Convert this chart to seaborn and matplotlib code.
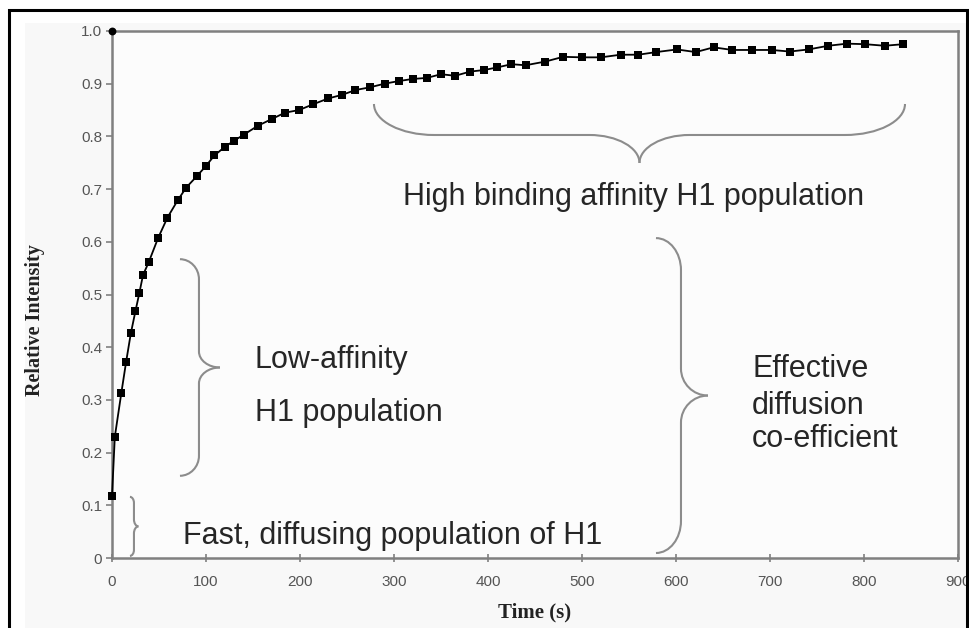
import numpy as np
import pandas as pd
import matplotlib
matplotlib.use("Agg")
import matplotlib.pyplot as plt
import seaborn as sns
from matplotlib.path import Path
from matplotlib.patches import PathPatch, Rectangle

# ---------------- data ----------------
time_s = [0, 3, 10, 15, 20, 25, 29, 33, 39, 49, 59, 70, 79, 90, 100, 109, 120, 130, 140,
          155, 170, 184, 199, 214, 230, 245, 259, 274, 290, 305, 320, 335, 350, 365, 381,
          396, 410, 425, 440, 461, 480, 500, 520, 541, 560, 579, 601, 621, 640, 660, 681,
          702, 721, 741, 762, 782, 801, 822, 842]
intensity = [0.118, 0.230, 0.314, 0.372, 0.426, 0.469, 0.502, 0.537, 0.561, 0.607, 0.646,
             0.679, 0.703, 0.724, 0.744, 0.764, 0.780, 0.792, 0.803, 0.820, 0.833, 0.845,
             0.850, 0.861, 0.872, 0.879, 0.888, 0.893, 0.900, 0.905, 0.909, 0.911, 0.918,
             0.915, 0.923, 0.926, 0.931, 0.937, 0.935, 0.942, 0.951, 0.950, 0.950, 0.955,
             0.955, 0.960, 0.965, 0.960, 0.969, 0.964, 0.964, 0.964, 0.961, 0.965, 0.972,
             0.976, 0.975, 0.972, 0.975]
prebleach_time = [0]
prebleach_intensity = [1.0]

x_ticks = [0, 100, 200, 300, 400, 500, 600, 700, 800, 900]
y_ticks = [0, 0.1, 0.2, 0.3, 0.4, 0.5, 0.6, 0.7, 0.8, 0.9, 1.0]
y_tick_labels = ["0", "0.1", "0.2", "0.3", "0.4", "0.5", "0.6", "0.7", "0.8", "0.9", "1.0"]

x_label = "Time (s)"
y_label = "Relative Intensity"

# annotations: (text, x, y)
annotations = [
    ("High binding affinity H1 population", 309.6, 0.670),
    ("Low-affinity", 152.1, 0.3605),
    ("H1 population", 152.1, 0.260),
    ("Fast, diffusing population of H1", 75.2, 0.0266),
    ("Effective", 680.9, 0.3435),
    ("diffusion", 680.9, 0.2732),
    ("co-efficient", 680.9, 0.2106),
]
# braces: (start point, end point) in data coords
braces = [
    ((278.7, 0.8615), (843.6, 0.8615)),
    ((72.3, 0.567), (72.3, 0.156)),
    ((19.1, 0.116), (19.1, 0.004)),
    ((578.7, 0.607), (578.7, 0.0095)),
]
# brace shapes in pixels: (d1, D, r1, r2, side)  side=-1 tip downwards, +1 tip to the right
brace_shapes = [
    (31, 59, 60, 50, -1),
    (19, 40, 20, 16, 1),
    (4, 8.5, 6, 7, 1),
    (25, 52, 32, 27, 1),
]

# ---------------- style ----------------
sns.set_theme(style="white")
plt.rcParams["font.family"] = ["Liberation Sans", "DejaVu Sans"]

W, H = 970, 628
fig = plt.figure(figsize=(W / 100, H / 100), dpi=100)
fig.patch.set_facecolor("white")

# light gray panel and outer black frame
fig.add_artist(Rectangle((25 / W, 0), 1 - 25 / W, 1 - 23 / H, transform=fig.transFigure,
                         facecolor="#f8f8f8", edgecolor="none", zorder=-10))
fig.add_artist(Rectangle((9 / W, -0.05), (967 - 9) / W, 1.05 - 10 / H, transform=fig.transFigure,
                         facecolor="none", edgecolor="black", linewidth=2.2, zorder=10,
                         clip_on=False))

ax = fig.add_axes([112 / W, (H - 558) / H, 846 / W, 527 / H])
ax.set_facecolor("#fcfcfc")

df = pd.DataFrame({"t": time_s, "I": intensity})
sns.lineplot(data=df, x="t", y="I", ax=ax, color="black", linewidth=1.3,
             marker="s", markersize=5.2, markeredgewidth=0, sort=False, estimator=None,
             clip_on=False, zorder=3)
sns.scatterplot(x=prebleach_time, y=prebleach_intensity, ax=ax, color="black", marker="o",
                s=32, linewidth=0, clip_on=False, zorder=4)

ax.set_xlim(0, 900)
ax.set_ylim(0, 1.0)
ax.set_xticks(x_ticks)
ax.set_yticks(y_ticks)
ax.set_yticklabels(y_tick_labels)

spine_color = "#808080"
for s in ax.spines.values():
    s.set_visible(True)
    s.set_color(spine_color)
    s.set_linewidth(1.8)

ax.tick_params(axis="y", direction="out", length=4, width=1.2, color=spine_color,
               labelsize=11, labelcolor="#555555", pad=3, left=True)
ax.tick_params(axis="x", direction="inout", length=6, width=1.2, color=spine_color,
               labelsize=11, labelcolor="#555555", pad=9, bottom=True)

ax.set_xlabel(x_label, family="Liberation Serif", fontweight="bold", fontsize=15,
              color="#222222", va="center")
ax.set_ylabel(y_label, family="Liberation Serif", fontweight="bold", fontsize=14.5,
              color="#222222", va="center")
ax.xaxis.set_label_coords(0.499, -0.1025)
ax.yaxis.set_label_coords(-0.091, 0.452)

for txt, x, y in annotations:
    ax.text(x, y, txt, ha="left", va="baseline", fontsize=22, color="#262626",
            family=["Liberation Sans", "DejaVu Sans"])

# ---------------- braces ----------------
def draw_brace(ax, p0, p1, d1, D, r1, r2, side):
    fig.canvas.draw()
    tr = ax.transData
    a = np.array(tr.transform(p0))
    b = np.array(tr.transform(p1))
    L = np.linalg.norm(b - a)
    u = (b - a) / L
    if side == -1:
        n = np.array([0.0, -1.0])
    else:
        n = np.array([1.0, 0.0])
    k = 0.55
    m = (a + b) / 2
    T = m + n * D

    def half(E, uu):
        A = E + n * d1 + uu * r1
        B = m - uu * r2 + n * d1
        verts = [E, E + n * d1 * k, A - uu * r1 * k, A,
                 B,
                 B + uu * r2 * k, T - n * (D - d1) * k, T]
        codes = [Path.MOVETO, Path.CURVE4, Path.CURVE4, Path.CURVE4,
                 Path.LINETO,
                 Path.CURVE4, Path.CURVE4, Path.CURVE4]
        return verts, codes

    v1, c1 = half(a, u)
    v2, c2 = half(b, -u)
    inv = tr.inverted()
    for v, c in ((v1, c1), (v2, c2)):
        vd = inv.transform(np.array(v))
        patch = PathPatch(Path(vd, c), facecolor="none", edgecolor="#8c8c8c",
                          linewidth=1.5, transform=ax.transData, clip_on=False, zorder=2)
        ax.add_patch(patch)

for (p0, p1), (d1, D, r1, r2, side) in zip(braces, brace_shapes):
    draw_brace(ax, p0, p1, d1, D, r1, r2, side)

fig.savefig("out.png", dpi=100, facecolor=fig.get_facecolor())
